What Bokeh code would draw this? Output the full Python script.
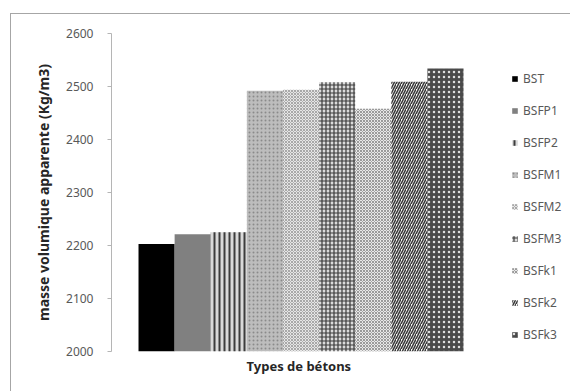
from bokeh.plotting import figure
from bokeh.models import ColumnDataSource, Legend, LegendItem, Range1d, Title
from bokeh.embed import file_html
from bokeh.resources import INLINE

# Bulk density of each concrete type (kg/m3)
labels = ["BST", "BSFP1", "BSFP2", "BSFM1", "BSFM2", "BSFM3", "BSFk1", "BSFk2", "BSFk3"]
values = [2203, 2221, 2225, 2492, 2494, 2508, 2458, 2509, 2534]
y_ticks = [2000, 2100, 2200, 2300, 2400, 2500, 2600]

# Fill style for each bar (solid fills and hatched greys)
fills = ["#000000", "#808080", "#d9d9d9", "#bdbdbd", "#e6e6e6", "#dcdcdc", "#e8e8e8", "#ffffff", "#4a4a4a"]
hatches = [" ", " ", "vertical_line", "dot", "diagonal_cross", "cross", "diagonal_cross", "right_diagonal_line", "dot"]
hatch_colors = ["#000000", "#808080", "#3c3c3c", "#8a8a8a", "#a8a8a8", "#3a3a3a", "#9a9a9a", "#3a3a3a", "#e0e0e0"]
hatch_scales = [6, 6, 5, 4, 3, 4, 3, 5, 5]
hatch_weights = [1, 1, 2, 1.4, 1, 1.2, 1, 1.6, 3]

src = ColumnDataSource(dict(
    x=list(range(len(labels))), top=values, label=labels,
    fill=fills, hatch=hatches, hcol=hatch_colors, hscale=hatch_scales, hweight=hatch_weights,
))

# The figure sits inside a framed box offset 10px / 13px from the page corner
p = figure(width=560, height=378, output_backend="svg", toolbar_location=None,
           x_range=Range1d(-1.248, 11.49), y_range=Range1d(2000, 2600),
           min_border_left=100, min_border_right=0, min_border_top=19, min_border_bottom=41)
p.margin = (13, 0, 0, 10)
p.styles = {"border-top": "1.5px solid #a6a6a6", "border-left": "1.5px solid #a6a6a6",
            "box-sizing": "border-box"}

r = p.vbar(x="x", top="top", bottom=2000, width=1.0, source=src,
           fill_color="fill", line_color=None,
           hatch_pattern="hatch", hatch_color="hcol", hatch_scale="hscale", hatch_weight="hweight")

p.xgrid.visible = False
p.ygrid.visible = False
p.outline_line_color = None

p.yaxis.ticker = y_ticks
p.yaxis.axis_line_color = "#b5b5b5"
p.yaxis.major_tick_line_color = "#b5b5b5"
p.yaxis.major_tick_out = 4
p.yaxis.major_tick_in = 0
p.yaxis.minor_tick_line_color = None
p.yaxis.major_label_text_font = "Noto Sans"
p.yaxis.major_label_text_font_size = "12px"
p.yaxis.major_label_text_color = "#595959"
p.yaxis.major_label_standoff = 14
p.yaxis.axis_label = "masse volumique apparente (Kg/m3)"
p.yaxis.axis_label_text_font = "Noto Sans"
p.yaxis.axis_label_text_font_style = "bold"
p.yaxis.axis_label_text_font_size = "14px"
p.yaxis.axis_label_text_color = "#262626"
p.yaxis.axis_label_standoff = 10

p.xaxis.visible = False

# Category axis title, centred under the bars
p.add_layout(Title(text="Types de bétons", align="left", offset=135, standoff=6,
                   text_font="Noto Sans", text_font_style="bold", text_font_size="13px",
                   text_color="#262626"), "below")

items = [LegendItem(label=lab, renderers=[r], index=i) for i, lab in enumerate(labels)]
legend = Legend(items=items, location=(400, 8), orientation="vertical",
                glyph_width=7, glyph_height=7, label_height=17, label_standoff=5,
                spacing=15, padding=0, margin=0,
                label_text_font="Noto Sans", label_text_font_size="12px",
                label_text_color="#595959",
                border_line_color=None, background_fill_alpha=0)
p.add_layout(legend, "center")

open("out.html", "w").write(file_html(p, INLINE))
